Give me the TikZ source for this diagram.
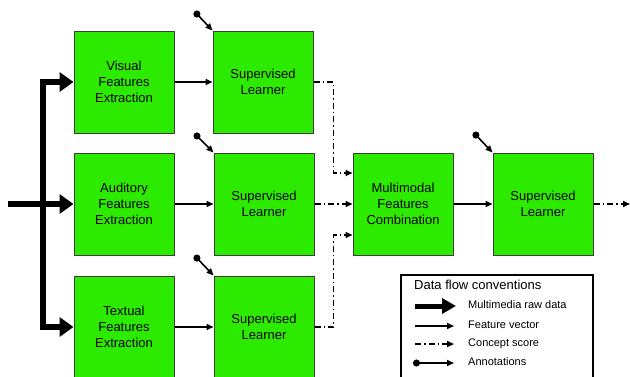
\documentclass[tikz,border=0pt]{standalone}
\usepackage{fontspec}
\setmainfont{Liberation Sans}
\usetikzlibrary{arrows.meta,positioning}
\definecolor{boxgreen}{RGB}{45,235,0}
\definecolor{boxedge}{RGB}{60,60,60}
\begin{document}
\begin{tikzpicture}[x=1pt,y=-1pt,
  block/.style={draw=boxedge,line width=1pt,fill=boxgreen,minimum width=100pt,minimum height=102pt,
    align=center,font=\fontsize{13}{16}\selectfont,inner sep=0pt},
  raw/.style={line width=6pt,line join=miter,-{Triangle[length=14pt,width=19pt]}},
  feat/.style={line width=1.6pt,-{Triangle[length=7pt,width=6pt]}},
  concept/.style={line width=1.6pt,dash pattern=on 6pt off 3pt on 1.5pt off 3pt,-{Triangle[length=7pt,width=6pt]}},
  annot/.style={line width=1.6pt,{Circle[length=7pt]}-{Triangle[length=7pt,width=6pt]}},
  legtext/.style={anchor=west,font=\fontsize{11}{13}\selectfont,inner sep=0pt}
]
\useasboundingbox (0,0) rectangle (630,376);
% blocks
\node[block] (VF) at (124,82) {Visual\\Features\\Extraction};
\node[block] (S1) at (263,82) {Supervised\\Learner};
\node[block] (AF) at (124,204) {Auditory\\Features\\Extraction};
\node[block] (S2) at (264,204) {Supervised\\Learner};
\node[block] (TF) at (124,327) {Textual\\Features\\Extraction};
\node[block] (S3) at (264,327) {Supervised\\Learner};
\node[block] (MM) at (403,204) {Multimodal\\Features\\Combination};
\node[block] (S4) at (543,204) {Supervised\\Learner};
% raw data
\coordinate (in) at (8,204);
\coordinate (bar) at (43,204);
\draw[raw] (in) -- (AF.west);
\draw[raw] (bar |- TF.west) |- (VF.west);
\draw[raw] (bar |- VF.west) |- (TF.west);
% feature vectors
\draw[feat] (VF.east) -- (S1.west |- VF.east);
\draw[feat] (AF.east) -- (S2.west);
\draw[feat] (TF.east) -- (S3.west);
\draw[feat] (MM.east) -- (S4.west);
% concept scores
\draw[concept] (S1.east) -- ++(20,0) |- ([yshift=31pt]MM.west);
\draw[concept] (S2.east) -- (MM.west);
\draw[concept] (S3.east) -- ++(19,0) |- ([yshift=-31pt]MM.west);
\coordinate (out) at (630,204);
\draw[concept] (S4.east) -- (out);
% annotations
\coordinate (a1) at ([xshift=-18pt,yshift=19pt]S1.north west);
\coordinate (a2) at ([xshift=-19pt,yshift=19pt]S2.north west);
\coordinate (a3) at ([xshift=-19pt,yshift=20pt]S3.north west);
\coordinate (a4) at ([xshift=-19pt,yshift=20pt]S4.north west);
\draw[annot] (a1) -- (S1.north west);
\draw[annot] (a2) -- (S2.north west);
\draw[annot] (a3) -- (S3.north west);
\draw[annot] (a4) -- (S4.north west);
% legend
\node[draw=black,line width=2.5pt,minimum width=192pt,minimum height=104pt,inner sep=0pt] (LG) at (497,327) {};
\node[anchor=west,font=\fontsize{13}{15}\selectfont,inner sep=0pt] (LT) at (414,285) {Data flow conventions};
\coordinate (l1a) at (415,306); \coordinate (l1b) at (456,306);
\coordinate (l2a) at (415,326); \coordinate (l2b) at (454,326);
\coordinate (l3a) at (415,344); \coordinate (l3b) at (454,344);
\coordinate (l4a) at (413,363); \coordinate (l4b) at (454,363);
\draw[line width=5pt,-{Triangle[length=14pt,width=15pt]}] (l1a) -- (l1b);
\draw[feat] (l2a) -- (l2b);
\draw[concept] (l3a) -- (l3b);
\draw[annot] (l4a) -- (l4b);
\node[legtext] (L1) at (468,305) {Multimedia raw data};
\node[legtext] (L2) at (468,325) {Feature vector};
\node[legtext] (L3) at (468,344) {Concept score};
\node[legtext] (L4) at (468,362) {Annotations};
\end{tikzpicture}
\end{document}
